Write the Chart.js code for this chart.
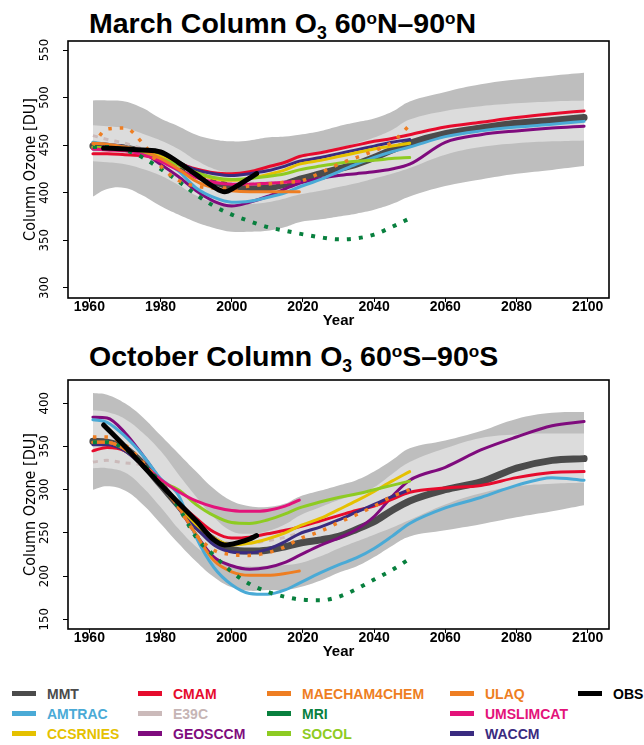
<!DOCTYPE html>
<html>
<head>
<meta charset="utf-8">
<script src="https://cdn.jsdelivr.net/npm/chart.js@4.4.0/dist/chart.umd.min.js"></script>
<style>
    body { margin: 0; background: #fff; width: 644px; height: 745px; position: relative; overflow: hidden;
           font-family: "Liberation Sans", Arial, sans-serif; }
    .ttl { position: absolute; font-weight: bold; font-size: 28.5px; line-height: 1; white-space: nowrap; color: #000; }
    .ttl sub { font-size: 0.62em; vertical-align: -0.32em; line-height: 0; }
    .ttl sup { font-size: 0.6em; vertical-align: 0.5em; line-height: 0; }
    canvas { position: absolute; left: 0; }
    .leg { position: absolute; font-weight: bold; font-size: 14px; line-height: 14px; white-space: nowrap; }
    .sw { position: absolute; height: 5px; }
</style>
</head>
<body>

<div class="ttl" style="left:89px; top:9px;">March Column O<sub>3</sub> 60<sup>o</sup>N&ndash;90<sup>o</sup>N</div>
<div class="ttl" style="left:89px; top:342px;">October Column O<sub>3</sub> 60<sup>o</sup>S&ndash;90<sup>o</sup>S</div>

<canvas id="marChart" width="644" height="334" style="top:0px;"></canvas>
<canvas id="octChart" width="644" height="320" style="top:345px;"></canvas>
<div id="legend"></div>

<script>
// sample years shared by all model curves (a series stops where its array stops)
var years = [1961, 1965, 1970, 1975, 1980, 1985, 1990, 1995, 2000, 2005, 2010, 2015, 2019,
             2025, 2030, 2035, 2040, 2045, 2050, 2060, 2070, 2080, 2090, 2099];
var xTicks = [1960, 1980, 2000, 2020, 2040, 2060, 2080, 2100];
var marYTicks = [300, 350, 400, 450, 500, 550];
var octYTicks = [150, 200, 250, 300, 350, 400];

// March 60N-90N
var marOuterHi = [497, 497, 496, 489, 478, 470, 461, 456, 454, 455, 458, 459, 461, 465, 470, 474, 478, 485, 496, 506, 514, 519, 523, 526];
var marOuterLo = [396, 404, 405, 397, 386, 377, 369, 363, 359, 359, 360, 364, 369, 372, 375, 378, 382, 388, 396, 407, 414, 420, 424, 428];
var marInnerHi = [471, 470, 468, 462, 455, 446, 434, 425, 421, 420, 422, 428, 436, 442, 447, 452, 458, 466, 477, 486, 491, 494, 496, 497];
var marInnerLo = [433, 432, 430, 425, 418, 408, 397, 390, 388, 388, 390, 394, 398, 402, 406, 410, 415, 420, 426, 440, 448, 452, 454, 455];
var marMMT = [449, 448, 447, 443, 438, 430, 420, 412, 406, 404, 405, 409, 414, 420, 425, 430, 437, 445, 452, 462, 468, 473, 476, 479];
var marAMTRAC = [453, 451, 448, 444, 436, 423, 405, 395, 390, 391, 395, 400, 406, 414, 422, 430, 437, 443, 448, 459, 465, 469, 472, 475];
var marCCSRNIES = [447, 447, 446, 443, 438, 430, 421, 415, 413, 415, 419, 424, 430, 434, 438, 442, 446, 449, 452];
var marCMAM = [441, 441, 440, 439, 436, 431, 425, 421, 420, 422, 427, 432, 438, 442, 446, 450, 454, 457, 461, 469, 474, 479, 483, 486];
var marE39C = [460, 456, 452, 446, 437, 428, 419, 413, 410, 410, 410, 411, 412];
var marGEOSCCM = [452, 451, 448, 442, 430, 417, 402, 391, 386, 390, 396, 404, 410, 415, 418, 420, 422, 425, 430, 453, 461, 465, 468, 470];
var marMAECHAM4CHEM = [452, 451, 448, 444, 436, 425, 412, 405, 402, 401, 401, 401, 401];
var marMRI = [448, 448, 445, 437, 425, 412, 398, 386, 377, 370, 364, 360, 357, 353, 351, 352, 356, 364, 373];
var marSOCOL = [448, 447, 446, 442, 436, 429, 421, 416, 414, 415, 417, 420, 424, 428, 431, 433, 434, 436, 437];
var marULAQ = [450, 467, 468, 452, 428, 413, 407, 405, 405, 407, 409, 411, 412, 421, 430, 437, 444, 453, 471];
var marUMSLIMCAT = [446, 445, 444, 440, 433, 424, 416, 411, 409, 409, 410, 411, 412];
var marWACCM = [446, 446, 445, 442, 437, 431, 424, 420, 418, 420, 423, 428, 433, 437, 441, 445, 449, 453, 456];
var marObsYears = [1964, 1970, 1975, 1980, 1985, 1990, 1995, 1998, 2001, 2004, 2007];
var marOBS = [447, 446, 445, 443, 432, 419, 406, 401, 406, 413, 420];

// October 60S-90S
var octOuterHi = [412, 410, 400, 384, 363, 342, 321, 301, 287, 281, 280, 284, 292, 299, 305, 311, 321, 334, 348, 357, 368, 382, 389, 390];
var octOuterLo = [300, 304, 299, 283, 261, 238, 217, 199, 187, 183, 184, 184, 187, 195, 204, 211, 222, 235, 246, 253, 260, 268, 275, 282];
var octInnerHi = [392, 390, 382, 366, 345, 318, 292, 268, 252, 249, 252, 260, 270, 280, 288, 295, 303, 318, 332, 348, 360, 364, 365, 365];
var octInnerLo = [325, 325, 320, 303, 280, 255, 234, 220, 213, 211, 212, 213, 215, 223, 232, 240, 248, 256, 265, 283, 296, 304, 307, 308];
var octMMT = [356, 355, 348, 330, 306, 282, 258, 242, 231, 229, 230, 234, 238, 242, 246, 254, 263, 276, 287, 300, 309, 325, 334, 336];
var octAMTRAC = [381, 378, 362, 340, 313, 294, 245, 210, 190, 180, 179, 184, 192, 204, 213, 221, 232, 246, 261, 279, 291, 305, 314, 311];
var octCCSRNIES = [355, 355, 347, 330, 307, 282, 260, 244, 236, 238, 243, 250, 258, 267, 277, 287, 298, 310, 321];
var octCMAM = [345, 349, 345, 329, 307, 285, 267, 251, 244, 245, 249, 253, 257, 264, 270, 276, 281, 289, 297, 302, 305, 314, 320, 321];
var octE39C = [332, 334, 331, 328, 305, 282, 258, 244, 238, 238, 241, 245, 250];
var octGEOSCCM = [384, 383, 366, 340, 311, 280, 248, 222, 212, 208, 210, 216, 224, 236, 244, 254, 269, 292, 311, 326, 346, 361, 374, 379];
var octMAECHAM4CHEM = [355, 355, 347, 330, 307, 280, 248, 218, 205, 201, 201, 203, 206];
var octMRI = [355, 355, 347, 330, 308, 280, 245, 224, 205, 191, 182, 176, 173, 172, 176, 185, 196, 207, 220];
var octSOCOL = [355, 355, 347, 330, 310, 300, 283, 270, 262, 261, 265, 272, 279, 286, 291, 295, 300, 305, 310];
var octULAQ = [361, 361, 352, 332, 307, 280, 248, 230, 225, 224, 227, 234, 243, 252, 262, 271, 281, 292, 300];
var octUMSLIMCAT = [355, 355, 347, 330, 312, 298, 287, 280, 276, 275, 276, 281, 288];
var octWACCM = [352, 352, 345, 328, 306, 281, 256, 236, 228, 227, 231, 240, 249, 257, 265, 274, 283, 292, 300];
var octObsYears = [1964, 1970, 1975, 1980, 1985, 1990, 1995, 1998, 2002, 2005, 2007];
var octOBS = [375, 350, 328, 306, 285, 264, 242, 236, 239, 243, 247];

// line styles, listed bottom to top in drawing order
var styles = {
    MMT:          { color: "#4b4b4b", width: 7 },
    E39C:         { color: "#cbbaba", width: 3, dash: [5, 6] },
    GEOSCCM:      { color: "#7f0b7d", width: 3 },
    AMTRAC:       { color: "#4aaad6", width: 3 },
    CMAM:         { color: "#e60b2d", width: 3 },
    WACCM:        { color: "#3a2b80", width: 3 },
    CCSRNIES:     { color: "#e5c100", width: 3 },
    SOCOL:        { color: "#8ecb22", width: 3 },
    UMSLIMCAT:    { color: "#e3137a", width: 3 },
    MAECHAM4CHEM: { color: "#ee7e22", width: 3 },
    MRI:          { color: "#08803e", width: 4, dash: [4, 8] },
    ULAQ:         { color: "#ee7e22", width: 3.5, dash: [3.5, 8] },
    OBS:          { color: "#000000", width: 5 }
};

var narrowFont = '"Liberation Sans Narrow", "DejaVu Sans Condensed", "Liberation Sans", Arial, sans-serif';
var boldFont = '"Liberation Sans", Arial, sans-serif';

function toPoints(xs, ys) {
    var pts = [];
    for (var i = 0; i < ys.length; i++) {
        pts.push({ x: xs[i], y: ys[i] });
    }
    return pts;
}

// draws the closed frame round the plot area
var boxPlugin = {
    id: "box",
    afterDraw: function (chart) {
        var a = chart.chartArea;
        var ctx = chart.ctx;
        ctx.save();
        ctx.strokeStyle = "#000";
        ctx.lineWidth = 1.6;
        ctx.strokeRect(a.left, a.top, a.right - a.left, a.bottom - a.top);
        ctx.restore();
    }
};

function makeChart(canvasId, series, obsYears, bands, yMin, yMax, yTicks, padTop) {
    var datasets = [];
    datasets.push({ data: toPoints(years, bands[0]), borderWidth: 0, pointRadius: 0, fill: false, tension: 0.4 });
    datasets.push({ data: toPoints(years, bands[1]), borderWidth: 0, pointRadius: 0, fill: { target: 0 }, backgroundColor: "#bebebe", tension: 0.4 });
    datasets.push({ data: toPoints(years, bands[2]), borderWidth: 0, pointRadius: 0, fill: false, tension: 0.4 });
    datasets.push({ data: toPoints(years, bands[3]), borderWidth: 0, pointRadius: 0, fill: { target: 2 }, backgroundColor: "#dcdcdc", tension: 0.4 });

    Object.keys(styles).forEach(function (name) {
        var st = styles[name];
        var xs = name === "OBS" ? obsYears : years;
        datasets.push({
            label: name,
            data: toPoints(xs, series[name]),
            borderColor: st.color,
            borderWidth: st.width,
            borderDash: st.dash || [],
            borderCapStyle: st.dash ? "butt" : "round",
            borderJoinStyle: "round",
            pointRadius: 0,
            fill: false,
            cubicInterpolationMode: "monotone"
        });
    });
    // later datasets on top
    datasets.forEach(function (d, i) { d.order = datasets.length - i; });

    return new Chart(document.getElementById(canvasId), {
        type: "line",
        data: { datasets: datasets },
        plugins: [boxPlugin],
        options: {
            responsive: false,
            animation: false,
            layout: { padding: { top: padTop, right: 35, left: 0, bottom: 0 } },
            plugins: {
                legend: { display: false },
                tooltip: { enabled: false },
                filler: { drawTime: "beforeDatasetsDraw" }
            },
            scales: {
                x: {
                    type: "linear",
                    min: 1954,
                    max: 2106,
                    afterBuildTicks: function (s) { s.ticks = xTicks.map(function (v) { return { value: v }; }); },
                    afterFit: function (s) { s.height = 36; },
                    border: { display: false },
                    grid: { drawOnChartArea: false, drawTicks: true, tickLength: 4, color: "#000", lineWidth: 1 },
                    ticks: {
                        autoSkip: false, maxRotation: 0, padding: -2, color: "#000",
                        font: { family: boldFont, size: 14, weight: "bold", lineHeight: 1 },
                        callback: function (v) { return String(v); }
                    },
                    title: {
                        display: true, text: "Year", color: "#000",
                        font: { family: boldFont, size: 15, weight: "bold", lineHeight: 1.2 },
                        padding: { top: 0, bottom: 4 }
                    }
                },
                y: {
                    type: "linear",
                    min: yMin,
                    max: yMax,
                    afterBuildTicks: function (s) { s.ticks = yTicks.map(function (v) { return { value: v }; }); },
                    afterFit: function (s) { s.width = 68; },
                    border: { display: false },
                    grid: { drawOnChartArea: false, drawTicks: true, tickLength: 5, color: "#000", lineWidth: 1 },
                    ticks: {
                        autoSkip: false, minRotation: 90, maxRotation: 90, crossAlign: "center", padding: 7, color: "#000",
                        font: { family: narrowFont, size: 13, lineHeight: 1 },
                        callback: function (v) { return String(v); }
                    },
                    title: {
                        display: true, text: "Column Ozone [DU]", color: "#000",
                        font: { family: narrowFont, size: 16, lineHeight: 1.2 },
                        padding: { top: 21, bottom: 0 }
                    }
                }
            }
        }
    });
}

makeChart("marChart", {
    MMT: marMMT, E39C: marE39C, GEOSCCM: marGEOSCCM, AMTRAC: marAMTRAC, CMAM: marCMAM, WACCM: marWACCM,
    CCSRNIES: marCCSRNIES, SOCOL: marSOCOL, UMSLIMCAT: marUMSLIMCAT, MAECHAM4CHEM: marMAECHAM4CHEM,
    MRI: marMRI, ULAQ: marULAQ, OBS: marOBS
}, marObsYears, [marOuterLo, marOuterHi, marInnerLo, marInnerHi], 289.3, 559.5, marYTicks, 41);

makeChart("octChart", {
    MMT: octMMT, E39C: octE39C, GEOSCCM: octGEOSCCM, AMTRAC: octAMTRAC, CMAM: octCMAM, WACCM: octWACCM,
    CCSRNIES: octCCSRNIES, SOCOL: octSOCOL, UMSLIMCAT: octUMSLIMCAT, MAECHAM4CHEM: octMAECHAM4CHEM,
    MRI: octMRI, ULAQ: octULAQ, OBS: octOBS
}, octObsYears, [octOuterLo, octOuterHi, octInnerLo, octInnerHi], 138.8, 427, octYTicks, 35);

// legend: three rows, five columns
var legendRows = [
    ["MMT", "CMAM", "MAECHAM4CHEM", "ULAQ", "OBS"],
    ["AMTRAC", "E39C", "MRI", "UMSLIMCAT"],
    ["CCSRNIES", "GEOSCCM", "SOCOL", "WACCM"]
];
var legendColX = [12, 138, 267, 450, 578];
var legendRowY = [694, 714, 734];
var textColors = { MMT: "#4b4b4b", E39C: "#c6b5b5", OBS: "#000" };

var legendEl = document.getElementById("legend");
legendRows.forEach(function (row, r) {
    row.forEach(function (name, c) {
        var col = styles[name].color;
        var sw = document.createElement("div");
        sw.className = "sw";
        sw.style.left = legendColX[c] + "px";
        sw.style.width = "24px";
        sw.style.top = (legendRowY[r] - 3) + "px";
        sw.style.background = col;
        legendEl.appendChild(sw);
        var t = document.createElement("div");
        t.className = "leg";
        t.textContent = name;
        t.style.left = (legendColX[c] + 35) + "px";
        t.style.top = (legendRowY[r] - 7) + "px";
        t.style.color = textColors[name] || col;
        legendEl.appendChild(t);
    });
});
</script>
</body>
</html>
